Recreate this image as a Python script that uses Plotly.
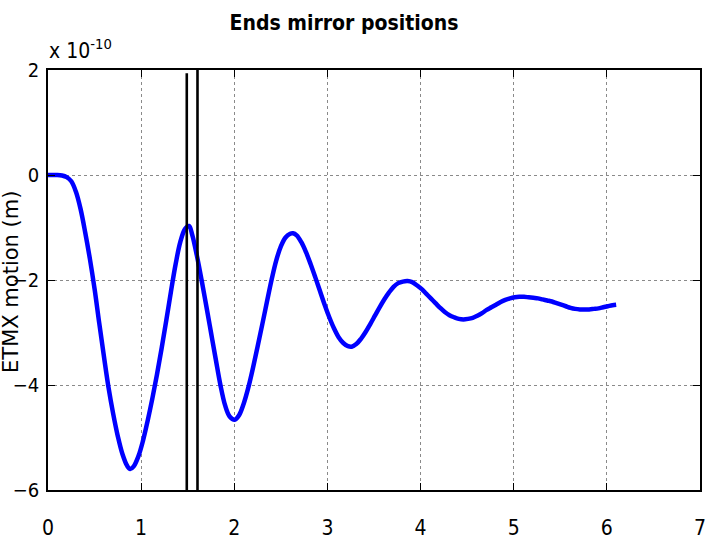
import plotly.graph_objects as go

# Time (s) and ETMX motion (in units of 1e-10 m)
t = [0.00, 0.05, 0.10, 0.15, 0.20, 0.25, 0.30, 0.35, 0.40, 0.45, 0.50, 0.55,
     0.60, 0.65, 0.70, 0.75, 0.80, 0.85, 0.883, 0.92, 0.97, 1.02, 1.07, 1.12,
     1.17, 1.22, 1.27, 1.32, 1.37, 1.42, 1.47, 1.514, 1.55, 1.60, 1.649, 1.70,
     1.75, 1.80, 1.851, 1.90, 1.95, 2.005, 2.05, 2.10, 2.152, 2.20, 2.25, 2.30,
     2.35, 2.40, 2.45, 2.50, 2.55, 2.60, 2.63, 2.67, 2.72, 2.77, 2.82, 2.87,
     2.92, 2.97, 3.02, 3.07, 3.12, 3.17, 3.22, 3.26, 3.31, 3.36, 3.41, 3.46,
     3.51, 3.56, 3.61, 3.66, 3.71, 3.76, 3.81, 3.86, 3.91, 3.96, 4.01, 4.06,
     4.11, 4.16, 4.21, 4.26, 4.31, 4.36, 4.41, 4.46, 4.51, 4.56, 4.61, 4.66,
     4.71, 4.76, 4.81, 4.86, 4.91, 4.96, 5.01, 5.06, 5.11, 5.16, 5.21, 5.26,
     5.31, 5.36, 5.41, 5.46, 5.51, 5.56, 5.61, 5.66, 5.71, 5.76, 5.81, 5.86,
     5.91, 5.96, 6.01, 6.06, 6.10]
etmx = [0.0, 0.0, 0.0, -0.01, -0.04, -0.12, -0.32, -0.65, -1.1, -1.6, -2.17, -2.82,
        -3.45, -4.05, -4.55, -4.98, -5.32, -5.54, -5.6, -5.55, -5.36, -5.06, -4.68, -4.26,
        -3.8, -3.3, -2.77, -2.22, -1.7, -1.28, -1.03, -0.97, -1.15, -1.55, -2.0, -2.5,
        -3.0, -3.5, -4.0, -4.38, -4.6, -4.66, -4.58, -4.36, -4.04, -3.68, -3.27, -2.85,
        -2.42, -2.0, -1.63, -1.36, -1.19, -1.12, -1.11, -1.15, -1.28, -1.47, -1.7, -1.95,
        -2.21, -2.47, -2.71, -2.92, -3.09, -3.2, -3.26, -3.27, -3.22, -3.12, -2.99, -2.84,
        -2.68, -2.52, -2.37, -2.24, -2.13, -2.06, -2.03, -2.02, -2.04, -2.1, -2.17, -2.26,
        -2.35, -2.44, -2.53, -2.61, -2.67, -2.71, -2.74, -2.75, -2.74, -2.72, -2.68, -2.63,
        -2.57, -2.52, -2.47, -2.42, -2.38, -2.35, -2.33, -2.32, -2.32, -2.33, -2.34, -2.35,
        -2.37, -2.39, -2.41, -2.44, -2.47, -2.50, -2.53, -2.55, -2.56, -2.56, -2.56, -2.55,
        -2.54, -2.52, -2.50, -2.48, -2.47]

# Vertical marker lines (time, top y)
marker_t = [1.49, 1.605]
marker_top = [1.94, 2.0]

x_ticks = [0, 1, 2, 3, 4, 5, 6, 7]
y_ticks = [-6, -4, -2, 0, 2]

title_text = "Ends mirror positions"
ylabel_text = "ETMX motion (m)"
exp_text = "x 10<sup>-10</sup>"

narrow = "Liberation Sans Narrow, DejaVu Sans Condensed, Liberation Sans, Arial, sans-serif"

fig = go.Figure()
fig.add_trace(go.Scatter(x=t, y=etmx, mode="lines",
                         line=dict(color="#0000FF", width=4.5, shape="spline", smoothing=1.0),
                         showlegend=False, hoverinfo="skip"))
for mt, top in zip(marker_t, marker_top):
    fig.add_trace(go.Scatter(x=[mt, mt], y=[-6, top], mode="lines",
                             line=dict(color="black", width=2.6),
                             showlegend=False, hoverinfo="skip"))

axis_common = dict(
    showline=True, linecolor="black", linewidth=1.5, mirror="ticks",
    ticks="inside", ticklen=7, tickcolor="black", tickwidth=1,
    showgrid=True, gridcolor="#8a8a8a", griddash="dot", gridwidth=1,
    zeroline=False, ticklabeloverflow="allow",
)

fig.update_xaxes(range=[0, 7], tickvals=x_ticks, ticklabelstandoff=18,
                 tickfont=dict(family=narrow, size=21, color="black"), **axis_common)
fig.update_yaxes(range=[-6, 2], tickvals=y_ticks, ticklabelstandoff=3,
                 tickfont=dict(family=narrow, size=20, color="black"), **axis_common)

fig.update_layout(
    width=710, height=544,
    margin=dict(l=48, r=4, t=70, b=42),
    paper_bgcolor="white", plot_bgcolor="white",
    title=dict(text="<b>" + title_text + "</b>", x=0.4845, xanchor="center",
               y=0.958, yanchor="middle",
               font=dict(family=narrow, size=21, color="black")),
    annotations=[
        dict(text=ylabel_text, textangle=-90, xref="paper", yref="paper",
             x=-0.057, y=0.495, xanchor="center", yanchor="middle", showarrow=False,
             font=dict(family="DejaVu Sans", size=21, color="black")),
        dict(text=exp_text, xref="paper", yref="paper", x=-0.002, y=1.05,
             xanchor="left", yanchor="middle", showarrow=False,
             font=dict(family=narrow, size=21, color="black")),
    ],
)

fig.write_html("out.html")
